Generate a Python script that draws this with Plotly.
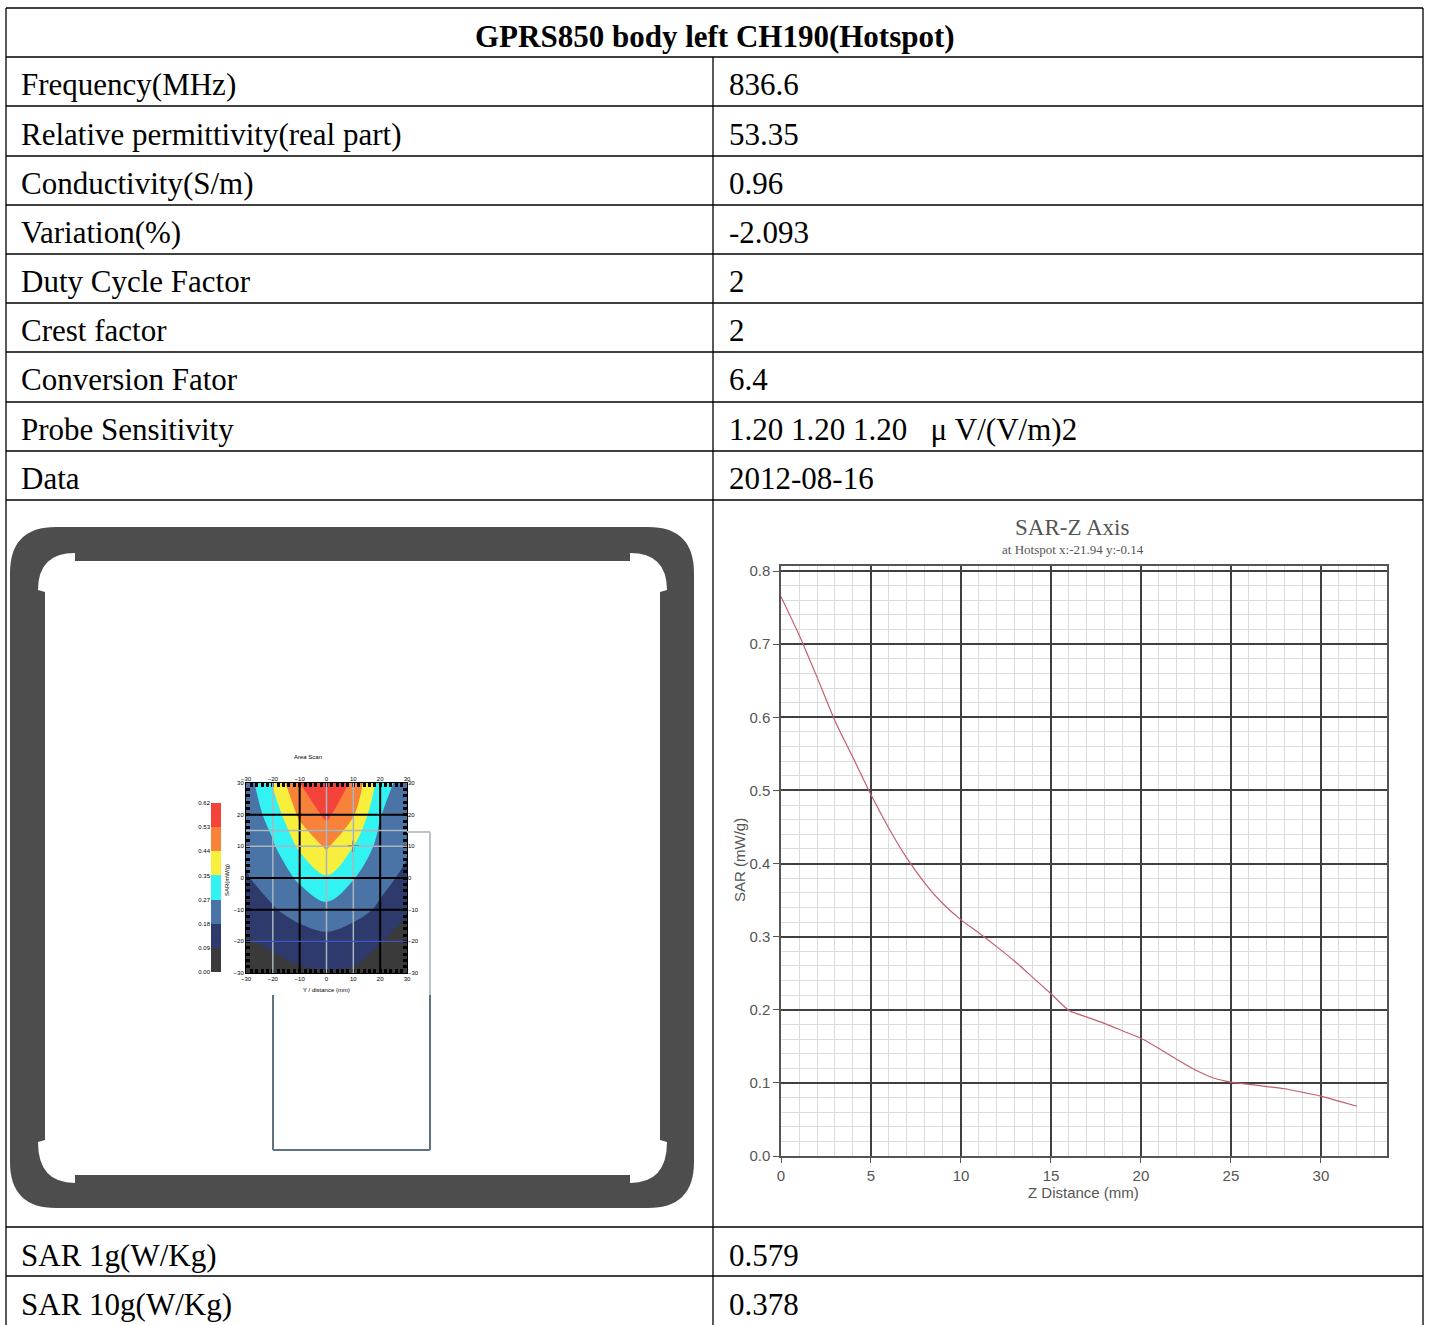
import plotly.graph_objects as go

W, H = 1430, 1325

# ---- table text ----
title = "GPRS850 body left CH190(Hotspot)"
param_labels = ["Frequency(MHz)", "Relative permittivity(real part)", "Conductivity(S/m)",
                "Variation(%)", "Duty Cycle Factor", "Crest factor", "Conversion Fator",
                "Probe Sensitivity", "Data"]
param_values = ["836.6", "53.35", "0.96", "-2.093", "2", "2", "6.4",
                "1.20 1.20 1.20   \u03bc V/(V/m)2", "2012-08-16"]
result_labels = ["SAR 1g(W/Kg)", "SAR 10g(W/Kg)"]
result_values = ["0.579", "0.378"]

# ---- SAR-Z axis curve ----
z_mm = list(range(33))
sar_z = [0.765, 0.713, 0.655, 0.595, 0.545, 0.494, 0.448, 0.407, 0.373, 0.345,
         0.323, 0.305, 0.286, 0.266, 0.244, 0.222, 0.199, 0.190, 0.181, 0.171,
         0.161, 0.147, 0.132, 0.118, 0.107, 0.101, 0.098, 0.095, 0.092, 0.087,
         0.082, 0.075, 0.068]

# ---- area scan ----
scan_x = [-30, -20, -10, 0, 10, 20, 30]
scan_y = [30, 20, 10, 0, -10, -20, -30]
scan_sar = [
    [0.220, 0.365, 0.530, 0.640, 0.510, 0.320, 0.210],
    [0.210, 0.300, 0.460, 0.550, 0.450, 0.270, 0.205],
    [0.195, 0.255, 0.370, 0.455, 0.355, 0.235, 0.190],
    [0.170, 0.215, 0.280, 0.345, 0.270, 0.200, 0.160],
    [0.120, 0.170, 0.210, 0.240, 0.205, 0.165, 0.100],
    [0.080, 0.105, 0.135, 0.150, 0.135, 0.092, 0.050],
    [0.040, 0.055, 0.075, 0.082, 0.076, 0.045, 0.020],
]
levels = [0.00, 0.09, 0.18, 0.27, 0.35, 0.44, 0.53, 0.62]
level_colors = ["#3a3a3a", "#2e3a6c", "#4a73a6", "#33f2f2", "#f8ee3c", "#f8823a", "#f6433a"]
hotspot = (10, 10)

# ---- helpers (pixel -> paper) ----
def px(x):
    return x / W

def py(y):
    return 1 - y / H

def dom_x(a, b):
    return [a / W, b / W]

def dom_y(top, bottom):
    return [1 - bottom / H, 1 - top / H]

def path(cmds):
    out = []
    for c in cmds:
        if isinstance(c, str):
            out.append(c)
        else:
            out.append("%.5f,%.5f" % (px(c[0]), py(c[1])))
    return " ".join(out)

def note(text, x, y, font, xanchor="center", **kw):
    return dict(text=text, x=px(x), y=py(y), xref="paper", yref="paper", showarrow=False,
                xanchor=xanchor, yanchor="middle", font=font, **kw)

fig = go.Figure()
shapes = []
annotations = []

# ---- table grid ----
row_edges = [8, 57, 106, 156, 205, 254, 303, 352, 402, 451, 500, 1227, 1276]
col_l, col_m, col_r = 6, 713, 1423
for y in row_edges:
    shapes.append(dict(type="line", xref="paper", yref="paper", x0=px(col_l), x1=px(col_r),
                       y0=py(y), y1=py(y), line=dict(color="black", width=1.3)))
for x, y0 in [(col_l, 8), (col_m, 57), (col_r, 8)]:
    shapes.append(dict(type="line", xref="paper", yref="paper", x0=px(x), x1=px(x),
                       y0=py(y0), y1=py(H), line=dict(color="black", width=1.3)))

serif = "Liberation Serif, Times New Roman, serif"
tfont = dict(family=serif, size=31, color="black")
annotations.append(note("<b>%s</b>" % title, (col_l + col_r) / 2, 37, tfont))
for i, (lab, val) in enumerate(zip(param_labels, param_values)):
    yc = (row_edges[i + 1] + row_edges[i + 2]) / 2 + 3
    annotations.append(note(lab, 19, yc, tfont, xanchor="left"))
    annotations.append(note(val, 727, yc, tfont, xanchor="left"))
for lab, val, yc in zip(result_labels, result_values, [1255, 1304]):
    annotations.append(note(lab, 19, yc, tfont, xanchor="left"))
    annotations.append(note(val, 727, yc, tfont, xanchor="left"))

# ---- phone frame (left image) ----
x0, y0, x1, y1, r = 10, 527, 694, 1208, 46
outer = path(["M", (x0 + r, y0), "L", (x1 - r, y0), "Q", (x1, y0), (x1, y0 + r),
              "L", (x1, y1 - r), "Q", (x1, y1), (x1 - r, y1), "L", (x0 + r, y1),
              "Q", (x0, y1), (x0, y1 - r), "L", (x0, y0 + r), "Q", (x0, y0), (x0 + r, y0), "Z"])
shapes.append(dict(type="path", xref="paper", yref="paper", path=outer,
                   fillcolor="#4d4d4d", line=dict(width=0), layer="below"))
inner = path(["M", (75, 561), "L", (75, 553), "Q", (38, 553), (38, 590), "L", (45, 592),
              "L", (45, 1140), "L", (38, 1142), "Q", (38, 1183), (75, 1183), "L", (75, 1175),
              "L", (630, 1175), "L", (630, 1183), "Q", (667, 1183), (667, 1142), "L", (660, 1140),
              "L", (660, 592), "L", (667, 590), "Q", (667, 553), (630, 553), "L", (630, 561), "Z"])
shapes.append(dict(type="path", xref="paper", yref="paper", path=inner,
                   fillcolor="white", line=dict(width=0), layer="below"))

# phone outline rectangle under the scan
light, dark = "#b9c5cd", "#5d7384"
for (xa, ya, xb, yb, c) in [(273, 995, 273, 1150, dark), (273, 1150, 430, 1150, dark),
                            (430, 995, 430, 1150, dark), (430, 832, 430, 995, light),
                            (407, 832, 430, 832, light)]:
    shapes.append(dict(type="line", xref="paper", yref="paper", x0=px(xa), x1=px(xb),
                       y0=py(ya), y1=py(yb), line=dict(color=c, width=2)))

# ---- area scan contour ----
nb = len(level_colors)
cscale = []
for i, c in enumerate(level_colors):
    cscale.append([i / nb, c])
    cscale.append([(i + 1) / nb, c])
step = (levels[-1] - levels[0]) / nb
fig.add_trace(go.Contour(
    x=scan_x, y=scan_y, z=scan_sar, xaxis="x3", yaxis="y3",
    zmin=levels[0], zmax=levels[-1], colorscale=cscale, showscale=False,
    contours=dict(start=levels[0] + step, end=levels[-1] - step, size=step,
                  coloring="fill", showlines=False),
    line=dict(smoothing=1.0, width=0), hoverinfo="skip"))

# grid overlay lines on the scan
for xv, c, w in [(-10, "black", 2), (20, "black", 2), (-20, "#a9b6c0", 1.5),
                 (0, "#a9b6c0", 1.5), (10, "#a9b6c0", 1.5)]:
    shapes.append(dict(type="line", xref="x3", yref="y3", x0=xv, x1=xv, y0=-30, y1=30,
                       line=dict(color=c, width=w)))
for yv, c, w in [(20, "black", 2), (0, "black", 2), (-10, "black", 2),
                 (15, "#a9b6c0", 1.5), (10, "#a9b6c0", 1.5), (-20, "#3f55c0", 1.2)]:
    shapes.append(dict(type="line", xref="x3", yref="y3", x0=-30, x1=30, y0=yv, y1=yv,
                       line=dict(color=c, width=w)))

fig.add_trace(go.Scatter(x=[hotspot[0]], y=[hotspot[1]], xaxis="x3", yaxis="y3", mode="markers",
                         marker=dict(symbol="cross-thin", size=8, line=dict(color="black", width=1.5)),
                         hoverinfo="skip", showlegend=False))
# empty trace so the top/right label axes of the scan get drawn
fig.add_trace(go.Scatter(x=[None], y=[None], xaxis="x5", yaxis="y5", mode="markers",
                         hoverinfo="skip", showlegend=False))

# colour bar of the scan (drawn as a heatmap)
mids = [(levels[i] + levels[i + 1]) / 2 for i in range(nb)]
fig.add_trace(go.Heatmap(z=[[m] for m in mids], x=[0], y=list(range(nb)), xaxis="x4", yaxis="y4",
                         zmin=levels[0], zmax=levels[-1], colorscale=cscale, showscale=False,
                         hoverinfo="skip"))

small = dict(family="Liberation Sans, Arial", size=6, color="black")
annotations.append(note("Area Scan", 308, 757, small))
annotations.append(note("Y / distance (mm)", 326, 990, small))
annotations.append(note("SAR(mW/g)", 227, 880, small, textangle=-90))

# ---- SAR-Z chart ----
fig.add_trace(go.Scatter(x=z_mm, y=sar_z, xaxis="x2", yaxis="y2", mode="lines",
                         line=dict(color="#c25f6e", width=1.2, shape="spline", smoothing=0.6),
                         hoverinfo="skip", showlegend=False))

gray = "#555555"
sans = "Liberation Sans, Arial, sans-serif"
annotations.append(note("SAR-Z Axis", 1072, 528, dict(family=serif, size=23, color=gray)))
annotations.append(note("at Hotspot x:-21.94 y:-0.14", 1073, 549,
                        dict(family=serif, size=13, color=gray)))
annotations.append(note("SAR (mW/g)", 739, 860, dict(family=sans, size=15, color=gray),
                        textangle=-90))
annotations.append(note("Z Distance (mm)", 1083, 1192, dict(family=sans, size=15, color=gray)))

scan_ticks = [-30, -20, -10, 0, 10, 20, 30]
scan_axis = dict(range=[-30, 30], tickvals=scan_ticks, ticks="inside", ticklen=3,
                 tickwidth=1.5, tickcolor="black", showgrid=False, zeroline=False,
                 showline=True, linecolor="black", linewidth=1, mirror="allticks",
                 tickfont=small, automargin=False,
                 minor=dict(ticks="inside", dtick=2, ticklen=4, tickwidth=2.5, tickcolor="black"))

fig.update_layout(
    width=W, height=H, margin=dict(l=0, r=0, t=0, b=0, pad=0),
    paper_bgcolor="white", plot_bgcolor="white", showlegend=False,
    shapes=shapes, annotations=annotations,
    xaxis=dict(visible=False, domain=[0, 0.01], automargin=False),
    yaxis=dict(visible=False, domain=[0, 0.01], automargin=False),
    xaxis2=dict(domain=dom_x(781, 1387), anchor="y2", range=[0, 33.67], automargin=False,
                tickvals=[0, 5, 10, 15, 20, 25, 30], ticks="outside", ticklen=5,
                tickcolor=gray, tickfont=dict(family=sans, size=15, color=gray),
                showgrid=True, gridcolor="#404040", gridwidth=1.5, zeroline=False,
                showline=True, linecolor=gray, linewidth=1.5, mirror=True,
                minor=dict(dtick=1, showgrid=True, gridcolor="#dcdcdc", gridwidth=1)),
    yaxis2=dict(domain=dom_y(566, 1156), anchor="x2", range=[0, 0.807], automargin=False,
                tickvals=[0, 0.1, 0.2, 0.3, 0.4, 0.5, 0.6, 0.7, 0.8], tickformat=".1f",
                ticks="outside", ticklen=6, tickcolor=gray,
                tickfont=dict(family=sans, size=15, color=gray),
                showgrid=True, gridcolor="#404040", gridwidth=1.5, zeroline=False,
                showline=True, linecolor=gray, linewidth=1.5, mirror=True,
                minor=dict(dtick=0.02, showgrid=True, gridcolor="#dcdcdc", gridwidth=1)),
    xaxis3=dict(domain=dom_x(246, 407), anchor="y3", **scan_axis),
    yaxis3=dict(domain=dom_y(783, 973), anchor="x3", **scan_axis),
    xaxis5=dict(overlaying="x3", anchor="y5", side="top", range=[-30, 30], tickvals=scan_ticks,
                showgrid=False, zeroline=False, tickfont=small, ticks="", automargin=False),
    yaxis5=dict(overlaying="y3", anchor="x5", side="right", range=[-30, 30], tickvals=scan_ticks,
                showgrid=False, zeroline=False, tickfont=small, ticks="", automargin=False),
    xaxis4=dict(domain=dom_x(211, 221), anchor="y4", visible=False, automargin=False),
    yaxis4=dict(domain=dom_y(803, 972), anchor="x4", range=[-0.5, nb - 0.5], automargin=False,
                tickvals=[i - 0.5 for i in range(nb + 1)],
                ticktext=["%.2f" % v for v in levels], ticks="", showgrid=False,
                zeroline=False, showline=False,
                tickfont=dict(family="Liberation Sans, Arial", size=6, color="black")),
)

fig.write_html("out.html", config={"displayModeBar": False},
               post_script="document.body.style.margin='0px';")
